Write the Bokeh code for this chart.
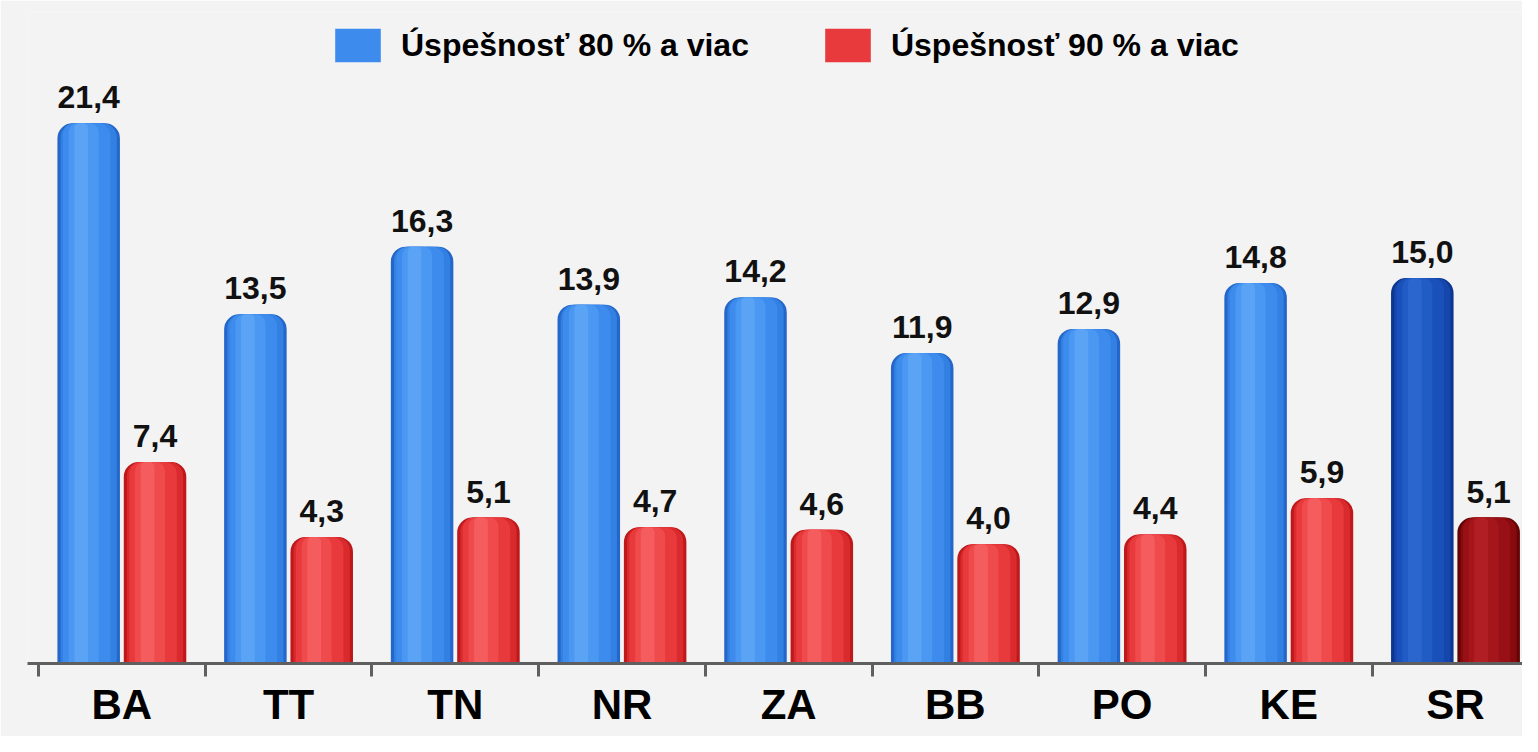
from bokeh.plotting import figure
from bokeh.models import (ColumnDataSource, Range1d, LinearAxis, FixedTicker, Legend, LegendItem)
from bokeh.transform import dodge
from bokeh.core.properties import value
from bokeh.embed import file_html
from bokeh.resources import INLINE

categories = ["BA", "TT", "TN", "NR", "ZA", "BB", "PO", "KE", "SR"]
share_80 = [21.4, 13.5, 16.3, 13.9, 14.2, 11.9, 12.9, 14.8, 15.0]
share_90 = [7.4, 4.3, 5.1, 4.7, 4.6, 4.0, 4.4, 5.9, 5.1]
series_names = ["Úspešnosť 80 % a viac", "Úspešnosť 90 % a viac"]
is_total = [False, False, False, False, False, False, False, False, True]

FONT = "Liberation Sans"
BG = "#f3f3f3"

# shading layers (outer -> inner), regular / total
blue = [("#2466c9", "#0c3690"), ("#3280e2", "#1546ab"), ("#3d8ced", "#1a50ba"),
        ("#4b98f2", "#215bc4"), ("#5aa3f5", "#2a66cc")]
red = [("#bf181b", "#650405"), ("#d92a2d", "#860a0e"), ("#e8393c", "#981015"),
       ("#ef4a4c", "#a5161b"), ("#f45c5e", "#b11f24")]
layers = [(1.0, 0.0, 15), (0.9, 0.0, 14), (0.76, -0.012, 12), (0.48, -0.03, 9), (0.22, -0.045, 5)]

n = len(categories)
centers = [i + 0.5 for i in range(n)]

data = dict(xc=centers, cat=categories, v80=share_80, v90=share_90,
            l80=[f"{v:.1f}".replace(".", ",") for v in share_80],
            l90=[f"{v:.1f}".replace(".", ",") for v in share_90])
for k in range(len(layers)):
    data[f"b{k}"] = [blue[k][1] if t else blue[k][0] for t in is_total]
    data[f"r{k}"] = [red[k][1] if t else red[k][0] for t in is_total]
src = ColumnDataSource(data)

y0 = -0.934
p = figure(width=1522, height=736, x_range=Range1d(-0.066, n - 0.098),
           y_range=Range1d(y0, 25.98), output_backend="svg", toolbar_location=None,
           x_axis_location=None, y_axis_location=None,
           min_border_left=27, min_border_right=0, min_border_top=12, min_border_bottom=73)
p.background_fill_color = BG
p.border_fill_color = BG
p.outline_line_color = None
p.xgrid.grid_line_color = None
p.ygrid.grid_line_color = None

W = 0.375
OFF = 0.199
legend_renderers = []
for off, top, lab, pal in [(-OFF, "v80", "l80", "b"), (OFF, "v90", "l90", "r")]:
    for k, (fw, dx, rad) in enumerate(layers):
        r = p.vbar(x=dodge("xc", off + dx), top=top, bottom=y0, width=W * fw,
                   source=src, fill_color=f"{pal}{k}", line_color=None,
                   border_radius=(rad, rad, 0, 0))
        if k == 2:
            legend_renderers.append(r)
    p.text(x=dodge("xc", off), y=top, text=lab, source=src,
           text_align="center", text_baseline="alphabetic", y_offset=-26,
           text_font=value(FONT), text_font_style="bold", text_font_size="32px",
           text_color="#111111")

# boundary tick axis (nearest to the frame)
tick_axis = LinearAxis(ticker=FixedTicker(ticks=list(range(n))),
                       major_label_overrides={i: "" for i in range(n)},
                       major_label_text_font_size="1px", major_label_standoff=0,
                       axis_line_color="#5f5f5f", axis_line_width=3,
                       major_tick_line_color="#5f5f5f", major_tick_line_width=3,
                       major_tick_in=0, major_tick_out=13, minor_tick_line_color=None)
p.add_layout(tick_axis, "below")

label_axis = LinearAxis(ticker=FixedTicker(ticks=centers),
                        major_label_overrides={c: name for c, name in zip(centers, categories)},
                        axis_line_color=None, major_tick_line_color=None,
                        minor_tick_line_color=None, major_tick_in=0, major_tick_out=0,
                        major_label_standoff=4,
                        major_label_text_font=FONT, major_label_text_font_style="bold",
                        major_label_text_font_size="42px", major_label_text_color="#000000")
p.add_layout(label_axis, "below")

legend = Legend(items=[LegendItem(label=series_names[0], renderers=[legend_renderers[0]], index=0),
                       LegendItem(label=series_names[1], renderers=[legend_renderers[1]], index=0)],
                orientation="horizontal", location=(302, 597),
                glyph_width=57, glyph_height=42, label_standoff=15, spacing=70,
                padding=0, margin=0, background_fill_alpha=0, border_line_color=None,
                label_text_font=FONT, label_text_font_style="bold", label_text_font_size="32px",
                label_text_color="#000000")
p.add_layout(legend)

open("out.html", "w").write(file_html(p, INLINE))
